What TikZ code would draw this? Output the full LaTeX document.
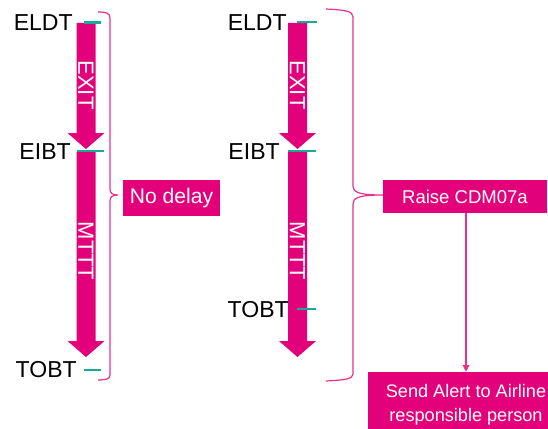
\documentclass[tikz,border=0pt]{standalone}
\usepackage{fontspec}
\setmainfont{Liberation Sans}
\usetikzlibrary{arrows.meta}
\definecolor{mag}{RGB}{227,0,123}
\definecolor{pinkline}{RGB}{232,48,140}
\definecolor{teal}{RGB}{26,170,154}
% fat downward arrow: centre x, top y, tip y
\newcommand\fatarrow[3]{%
  \fill[mag] (#1-9.5,#2) -- (#1+9.5,#2) -- (#1+9.5,#3-16) -- (#1+18.5,#3-16)
    -- (#1,#3) -- (#1-18.5,#3-16) -- (#1-9.5,#3-16) -- cycle;}
\tikzset{
  timelabel/.style={anchor=east, inner sep=0pt, font=\fontsize{17.3}{20}\selectfont},
  phase/.style={rotate=-90, text=white, inner sep=0pt, font=\fontsize{16.5}{20}\selectfont},
  tick/.style={draw=teal, line width=2.2pt},
  brace/.style={draw=pinkline, line width=0.9pt},
  box/.style={fill=mag, text=white, inner sep=0pt, align=center},
}
\begin{document}
\begin{tikzpicture}[x={(0.75pt,0)}, y={(0,-0.75pt)}]
\useasboundingbox (0,0) rectangle (548,428);
\clip (0,0) rectangle (548,428);

% left timeline
\fatarrow{86}{23}{149}
\fatarrow{86}{152}{357}
\node[phase] (exitA) at (86,85) {EXIT};
\node[phase] (mtttA) at (86,251) {MTTT};
\node[timelabel] (eldtA) at (73,23) {ELDT};
\node[timelabel] (eibtA) at (71,152) {EIBT};
\node[timelabel] (tobtA) at (77,370) {TOBT};
\draw[tick] (84,22.7) -- (101,22.7);
\draw[tick] (77,151) -- (104,151);
\draw[tick] (84,370) -- (101,370);
\draw[brace] (98,12) .. controls (106,12) and (110,13) .. (110,18) -- (110,189)
  .. controls (110,193) and (112,195) .. (118,195)
  .. controls (112,195) and (110,197) .. (110,201) -- (110,375)
  .. controls (110,379) and (106,380) .. (98,380);
\node[box, minimum width=72.75pt, minimum height=27pt,
  font=\fontsize{15.8}{18}\selectfont] (nodelay) at (171.5,198) {No delay};

% right timeline
\fatarrow{297.5}{23}{149}
\fatarrow{297.5}{152}{357}
\node[phase] (exitB) at (297.5,85) {EXIT};
\node[phase] (mtttB) at (297.5,251) {MTTT};
\node[timelabel] (eldtB) at (287,23) {ELDT};
\node[timelabel] (eibtB) at (280,152) {EIBT};
\node[timelabel] (tobtB) at (289,310) {TOBT};
\draw[tick] (297,22) -- (317,22);
\draw[tick] (288,151) -- (316,151);
\draw[tick] (297,309) -- (316,309);
\draw[brace] (326,9) .. controls (345,10) and (353,11) .. (353,17) -- (353,186)
  .. controls (353,192) and (358,195) .. (383,195)
  .. controls (358,195) and (353,198) .. (353,204) -- (353,374)
  .. controls (353,379) and (345,380) .. (326,381);
\node[box, minimum width=123pt, minimum height=24.75pt,
  font=\fontsize{13.9}{16}\selectfont] (raise) at (465,196.5) {Raise CDM07a};
\node[box, minimum width=147pt, minimum height=49.5pt,
  font=\fontsize{13.6}{18}\selectfont] (alert) at (466,405)
  {Send Alert to Airline\\responsible person};
\draw[pinkline, line width=0.9pt, -{Triangle[length=5pt,width=5pt]}]
  (raise.south -| alert.north) -- (alert.north);
\end{tikzpicture}
\end{document}
